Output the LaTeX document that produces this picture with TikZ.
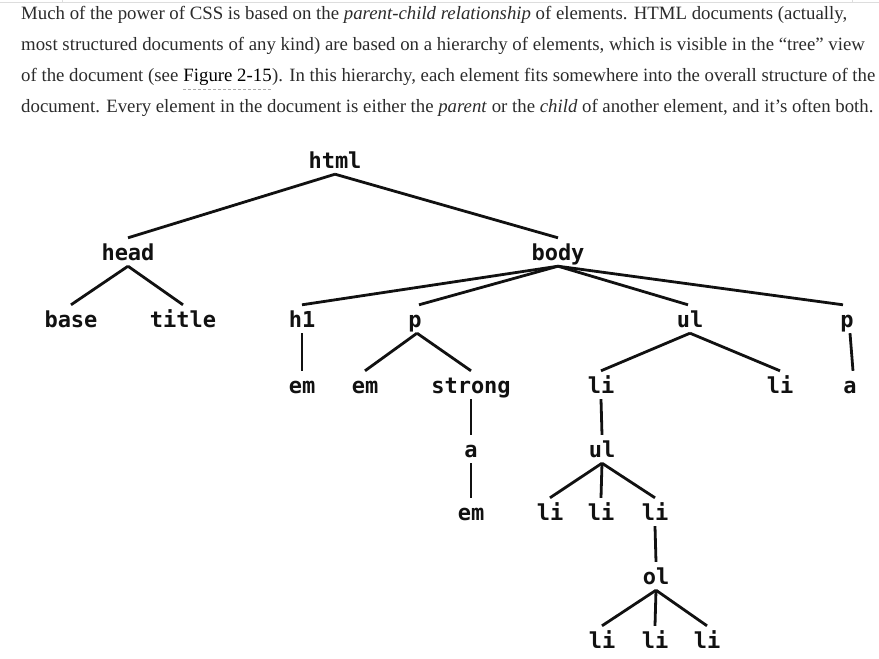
\documentclass[tikz,border=0pt]{standalone}
\usepackage{fontspec}
\setmainfont{Liberation Serif}
\newfontfamily\treefont{DejaVu Sans Mono}
\definecolor{bodytext}{HTML}{2B2B2B}
\definecolor{inkc}{HTML}{111111}
\definecolor{rulec}{HTML}{DDDDDD}
\definecolor{dashc}{HTML}{AAAAAA}
\tikzset{
  para/.style={anchor=base west, inner sep=0pt, text=bodytext, font=\fontsize{18.8}{22}\selectfont},
  tag/.style={anchor=base, inner sep=0pt, text height=22pt, text depth=6pt, text=inkc, font=\treefont\bfseries\fontsize{22}{26}\selectfont},
  edge/.style={draw=inkc, line width=2.8pt},
}
\begin{document}
\begin{tikzpicture}[x=1pt,y=-1pt]
\useasboundingbox (0,0) rectangle (879,659);
% faint top border
\draw[rulec, line width=1pt] (0,2) -- (879,2);
\draw[rulec, line width=1pt] (62,0) -- (62,3);
\draw[rulec, line width=1pt] (852,0) -- (852,3);
% paragraph
\node[para] (l1) at (21,19.5) {Much of the power of CSS is based on the \textit{parent-child relationship} of elements. HTML documents (actually,};
\node[para] (l2) at (21,50) {most structured documents of any kind) are based on a hierarchy of elements, which is visible in the “tree” view};
\node[para] (l3a) at (21,81.5) {of the document (see};
\node[para, text=black] (fig) at ([xshift=4.7pt]l3a.base east) {Figure 2-15};
\node[para] (l3b) at (fig.base east) {). In this hierarchy, each element fits somewhere into the overall structure of the};
\node[para] (l4) at (21,112) {document. Every element in the document is either the \textit{parent} or the \textit{child} of another element, and it’s often both.};
\draw[dashc, line width=1pt, dash pattern=on 3pt off 2pt] ([yshift=-7.5pt]fig.base west) -- ([yshift=-7.5pt]fig.base east);
% tree nodes
\node[tag] (html) at (335,168) {html};
\node[tag] (head) at (128,260) {head};
\node[tag] (body) at (558,260) {body};
\node[tag] (base) at (71,327) {base};
\node[tag] (title) at (183,327) {title};
\node[tag] (h1) at (302,327) {h1};
\node[tag] (p1) at (415,327) {p};
\node[tag] (ul1) at (690,327) {ul};
\node[tag] (p2) at (847,327) {p};
\node[tag] (em1) at (302,393) {em};
\node[tag] (em2) at (365,393) {em};
\node[tag] (strong) at (471,393) {strong};
\node[tag] (li1) at (601,393) {li};
\node[tag] (li2) at (780,393) {li};
\node[tag] (a2) at (850,393) {a};
\node[tag] (a1) at (471,457) {a};
\node[tag] (ul2) at (602,457) {ul};
\node[tag] (em3) at (471,520) {em};
\node[tag] (li3) at (550,520) {li};
\node[tag] (li4) at (601,520) {li};
\node[tag] (li5) at (655,520) {li};
\node[tag] (ol) at (656,584) {ol};
\node[tag] (li6) at (602,648) {li};
\node[tag] (li7) at (655,648) {li};
\node[tag] (li8) at (707,648) {li};
% connectors
\draw[edge] (html.south) -- (head.north);
\draw[edge] (html.south) -- (body.north);
\draw[edge] (head.south) -- (base.north);
\draw[edge] (head.south) -- (title.north);
\draw[edge] (body.south) -- (h1.north);
\draw[edge] (body.south) -- ([xshift=4pt]p1.north);
\draw[edge] (body.south) -- ([xshift=-2pt]ul1.north);
\draw[edge] (body.south) -- ([xshift=-4pt]p2.north);
\draw[edge] (h1.south) -- (em1.north);
\draw[edge] ([xshift=2pt]p1.south) -- (em2.north);
\draw[edge] ([xshift=2pt]p1.south) -- (strong.north);
\draw[edge] (ul1.south) -- (li1.north);
\draw[edge] (ul1.south) -- (li2.north);
\draw[edge] ([xshift=3pt]p2.south) -- ([xshift=3pt]a2.north);
\draw[edge] (strong.south) -- (a1.north);
\draw[edge] (li1.south) -- (ul2.north);
\draw[edge] (a1.south) -- (em3.north);
\draw[edge] (ul2.south) -- (li3.north);
\draw[edge] (ul2.south) -- (li4.north);
\draw[edge] (ul2.south) -- (li5.north);
\draw[edge] (li5.south) -- (ol.north);
\draw[edge] (ol.south) -- (li6.north);
\draw[edge] (ol.south) -- (li7.north);
\draw[edge] (ol.south) -- (li8.north);
\end{tikzpicture}
\end{document}
